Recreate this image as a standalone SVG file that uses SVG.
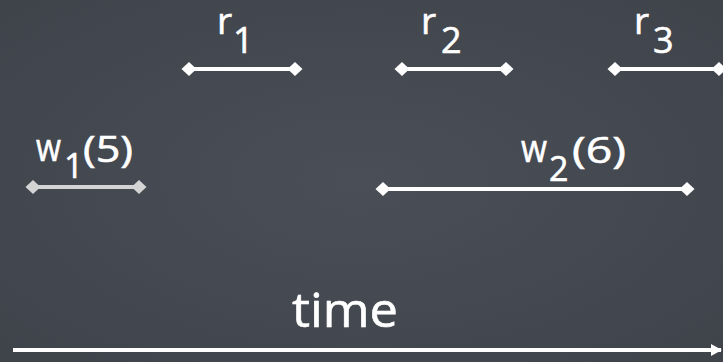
<svg xmlns="http://www.w3.org/2000/svg" width="723" height="362" viewBox="0 0 723 362">
<defs>
<style>
.lbl{font-family:"Open Sans","Liberation Sans",sans-serif;fill:#ffffff;stroke:#ffffff;stroke-width:0.6;}
.iv{stroke:#ffffff;stroke-width:4;fill:none;marker-start:url(#dia);marker-end:url(#dia);}
.iv.dim{stroke:#d4d4d4;marker-start:url(#diag);marker-end:url(#diag);}
</style>
<marker id="dia" markerUnits="userSpaceOnUse" markerWidth="16" markerHeight="16" refX="8" refY="8" orient="auto">
<path d="M0.5,8 L8,1 L15.5,8 L8,15 Z" fill="#ffffff"/>
</marker>
<marker id="diag" markerUnits="userSpaceOnUse" markerWidth="16" markerHeight="16" refX="8" refY="8" orient="auto">
<path d="M0.5,8 L8,1 L15.5,8 L8,15 Z" fill="#d4d4d4"/>
</marker>
<marker id="arr" markerUnits="userSpaceOnUse" markerWidth="12" markerHeight="14" refX="10" refY="7" orient="auto">
<path d="M0,1 L11,7 L0,13 Z" fill="#ffffff"/>
</marker>
<radialGradient id="bg" cx="50%" cy="50%" r="70%">
<stop offset="0" stop-color="#4a4e56"/>
<stop offset="1" stop-color="#3f434a"/>
</radialGradient>
</defs>
<rect width="723" height="362" fill="url(#bg)"/>
<g id="connectors">
<line id="r1-line" class="iv" x1="189" y1="69" x2="295" y2="69"/>
<line id="r2-line" class="iv" x1="402" y1="69" x2="506" y2="69"/>
<line id="r3-line" class="iv" x1="615" y1="69" x2="719" y2="69"/>
<line id="w1-line" class="iv dim" x1="33" y1="187" x2="139" y2="187"/>
<line id="w2-line" class="iv" x1="383" y1="189" x2="687" y2="189"/>
<line id="time-line" x1="13" y1="350" x2="721" y2="350" stroke="#ffffff" stroke-width="4" marker-end="url(#arr)"/>
</g>
<g id="r1"><text class="lbl" x="217" y="34" font-size="37">r</text><text class="lbl" x="233" y="53" font-size="36">1</text></g>
<g id="r2"><text class="lbl" x="421" y="34" font-size="37">r</text><text class="lbl" x="441" y="53" font-size="36">2</text></g>
<g id="r3"><text class="lbl" x="634" y="34" font-size="37">r</text><text class="lbl" x="653" y="53" font-size="36">3</text></g>
<g id="w1"><text class="lbl" x="36" y="161" font-size="38" textLength="25" lengthAdjust="spacingAndGlyphs">w</text><text class="lbl" x="64" y="178" font-size="34">1</text><text class="lbl" x="83" y="162" font-size="36" textLength="50" lengthAdjust="spacingAndGlyphs">(5)</text></g>
<g id="w2"><text class="lbl" x="521" y="162" font-size="38" textLength="26" lengthAdjust="spacingAndGlyphs">w</text><text class="lbl" x="549" y="181" font-size="34">2</text><text class="lbl" x="572" y="163" font-size="36" textLength="54" lengthAdjust="spacingAndGlyphs">(6)</text></g>
<g id="time"><text class="lbl" x="292" y="327" font-size="47" textLength="106" lengthAdjust="spacingAndGlyphs">time</text></g>
</svg>
